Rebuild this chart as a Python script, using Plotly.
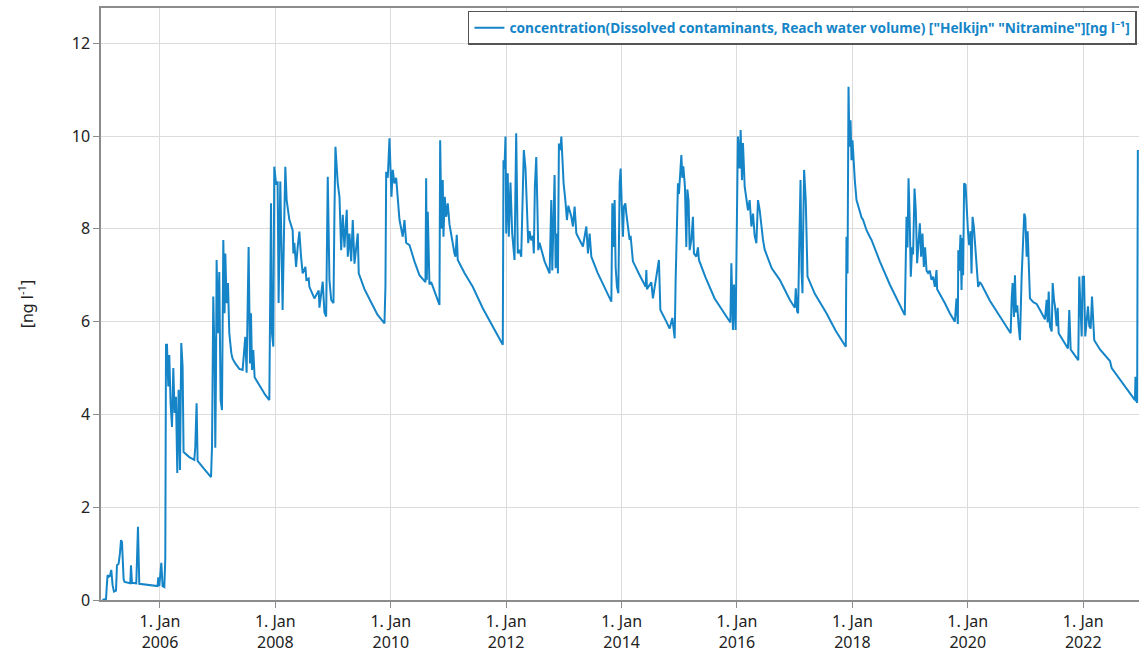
import pandas as pd
import plotly.graph_objects as go

# ---- data (decimal year, concentration in ng/l) ----
dec_years = [
    2005.000, 2005.064, 2005.077, 2005.091, 2005.109, 2005.133, 2005.155, 2005.178, 2005.202, 2005.237,
    2005.254, 2005.282, 2005.306, 2005.324, 2005.341, 2005.351, 2005.369, 2005.386, 2005.433, 2005.485,
    2005.497, 2005.514, 2005.589, 2005.618, 2005.641, 2005.814, 2005.958, 2005.971, 2005.988, 2006.023,
    2006.045, 2006.075, 2006.092, 2006.104,
    2006.121, 2006.144, 2006.161, 2006.184, 2006.208, 2006.231, 2006.253, 2006.277, 2006.300, 2006.323,
    2006.347, 2006.369, 2006.392, 2006.409, 2006.439, 2006.508, 2006.595, 2006.612, 2006.635, 2006.652,
    2006.768, 2006.885, 2006.902, 2006.924, 2006.947, 2006.959, 2006.971, 2006.982, 2007.006, 2007.028,
    2007.051, 2007.075, 2007.098, 2007.120, 2007.133, 2007.155, 2007.179, 2007.202, 2007.237, 2007.259,
    2007.306, 2007.375, 2007.433, 2007.479, 2007.502, 2007.537, 2007.561, 2007.578, 2007.596, 2007.618,
    2007.641, 2007.688, 2007.757, 2007.826, 2007.896, 2007.908, 2007.925,
    2007.942, 2007.965, 2007.982, 2008.012, 2008.040, 2008.057, 2008.086, 2008.126, 2008.156, 2008.173,
    2008.196, 2008.242, 2008.300, 2008.312, 2008.329, 2008.359, 2008.386, 2008.416, 2008.445, 2008.473,
    2008.520, 2008.537, 2008.577, 2008.589, 2008.676, 2008.751, 2008.763, 2008.820, 2008.849, 2008.879,
    2008.907, 2008.936, 2008.966, 2009.006, 2009.023, 2009.040, 2009.080, 2009.110, 2009.139, 2009.167,
    2009.196, 2009.236, 2009.254, 2009.283, 2009.313, 2009.340, 2009.370, 2009.427, 2009.444, 2009.543,
    2009.665, 2009.769, 2009.890, 2009.907, 2009.920, 2009.947, 2009.977, 2009.994, 2010.011, 2010.034,
    2010.063, 2010.093, 2010.121, 2010.150, 2010.207, 2010.237, 2010.266, 2010.324, 2010.410, 2010.497,
    2010.601, 2010.613, 2010.624, 2010.641, 2010.670, 2010.700, 2010.775, 2010.844, 2010.856,
    2010.879, 2010.901, 2010.913, 2010.936, 2010.960, 2010.988, 2011.005, 2011.017, 2011.104, 2011.121,
    2011.144, 2011.161, 2011.278, 2011.421, 2011.595, 2011.768, 2011.942, 2011.954, 2011.971, 2011.989,
    2012.001, 2012.028, 2012.046, 2012.075, 2012.105, 2012.145, 2012.174, 2012.202, 2012.231, 2012.261,
    2012.289, 2012.306, 2012.335, 2012.358, 2012.382, 2012.405, 2012.434, 2012.462, 2012.479, 2012.497,
    2012.521, 2012.538, 2012.556, 2012.578, 2012.665, 2012.752, 2012.781, 2012.798, 2012.838, 2012.856,
    2012.878, 2012.896, 2012.913, 2012.937, 2012.955, 2012.972, 2012.994, 2013.024, 2013.052, 2013.076,
    2013.098, 2013.128, 2013.156, 2013.185, 2013.215, 2013.272, 2013.329, 2013.388, 2013.416, 2013.445,
    2013.475, 2013.584, 2013.705, 2013.822,
    2013.839, 2013.862, 2013.879, 2013.896, 2013.919, 2013.943, 2013.966, 2013.983, 2014.000, 2014.023,
    2014.040, 2014.065, 2014.082, 2014.110, 2014.139, 2014.156, 2014.186, 2014.196, 2014.313, 2014.417,
    2014.429, 2014.439, 2014.515, 2014.543, 2014.647, 2014.672, 2014.776, 2014.833, 2014.880, 2014.902,
    2014.920, 2014.937, 2014.959, 2014.977, 2014.994, 2015.018, 2015.036, 2015.053, 2015.070, 2015.098,
    2015.122, 2015.140, 2015.162, 2015.180, 2015.209, 2015.237, 2015.254, 2015.296, 2015.324, 2015.341,
    2015.457, 2015.613, 2015.769, 2015.886, 2015.903, 2015.931, 2015.948, 2015.977, 2016.000, 2016.017,
    2016.047, 2016.064, 2016.087, 2016.104, 2016.134, 2016.163, 2016.191, 2016.220, 2016.250, 2016.278,
    2016.307, 2016.336, 2016.364, 2016.394, 2016.423, 2016.451, 2016.480, 2016.602, 2016.741, 2016.914,
    2017.001, 2017.018, 2017.041, 2017.058, 2017.075, 2017.100, 2017.117, 2017.134, 2017.145, 2017.162,
    2017.191, 2017.204, 2017.221, 2017.348, 2017.550, 2017.712, 2017.885, 2017.897, 2017.915, 2017.932,
    2017.949, 2017.967, 2017.984, 2018.001, 2018.019, 2018.041, 2018.071, 2018.128, 2018.157, 2018.185,
    2018.215, 2018.244, 2018.301, 2018.331, 2018.475, 2018.648, 2018.908, 2018.926, 2018.938, 2018.955,
    2018.973, 2018.995, 2019.012, 2019.035, 2019.052, 2019.077, 2019.099, 2019.122, 2019.146, 2019.169,
    2019.191, 2019.215, 2019.238, 2019.260, 2019.285, 2019.312, 2019.342, 2019.371, 2019.399, 2019.429,
    2019.458, 2019.469, 2019.602, 2019.689, 2019.776, 2019.805, 2019.828,
    2019.836, 2019.850, 2019.874, 2019.892, 2019.909, 2019.920, 2019.937, 2019.961, 2019.979, 2020.006,
    2020.024, 2020.048, 2020.065, 2020.083, 2020.105, 2020.122, 2020.152, 2020.180, 2020.209, 2020.239,
    2020.383, 2020.556, 2020.742, 2020.759, 2020.776, 2020.799, 2020.816, 2020.834, 2020.856, 2020.880,
    2020.903, 2020.932, 2020.960, 2020.977, 2020.995, 2021.019, 2021.036, 2021.054, 2021.076, 2021.134,
    2021.192, 2021.250, 2021.307, 2021.336, 2021.366, 2021.383, 2021.401, 2021.423, 2021.453, 2021.470,
    2021.493, 2021.510, 2021.539, 2021.557, 2021.574, 2021.649, 2021.735, 2021.758, 2021.782, 2021.839,
    2021.914, 2021.931, 2021.956, 2021.973, 2021.990, 2022.013, 2022.035, 2022.060, 2022.082, 2022.105,
    2022.129, 2022.152, 2022.174, 2022.191, 2022.290, 2022.464, 2022.493, 2022.637, 2022.811, 2022.897,
    2022.906, 2022.915, 2022.935, 2022.947,
]

conc_values = [
    0.00, 0.02, 0.30, 0.54, 0.50, 0.52, 0.65, 0.32, 0.18, 0.20,
    0.75, 0.78, 1.01, 1.29, 1.25, 0.95, 0.45, 0.39, 0.37, 0.36,
    0.75, 0.37, 0.36, 1.58, 0.35, 0.32, 0.30, 0.49, 0.30, 0.80,
    0.30, 0.28, 0.90, 5.50,
    5.50, 4.60, 5.28, 4.24, 3.73, 5.00, 4.03, 4.38, 2.74, 4.53,
    2.80, 5.54, 5.03, 3.19, 3.15, 3.08, 3.02, 3.30, 4.24, 3.00,
    2.82, 2.65, 3.30, 6.54, 5.17, 3.28, 4.80, 7.33, 5.75, 7.07,
    4.31, 4.09, 7.76, 6.18, 7.47, 6.40, 6.83, 5.75, 5.32, 5.20,
    5.10, 4.98, 4.96, 5.67, 4.90, 7.61, 5.10, 6.18, 4.96, 5.39,
    4.80, 4.70, 4.55, 4.42, 4.31, 6.18, 8.55,
    5.75, 5.46, 9.34, 8.98, 9.00, 6.40, 9.02, 6.25, 8.30, 9.34,
    8.62, 8.20, 7.97, 7.47, 7.70, 7.18, 7.60, 7.94, 7.40, 7.04,
    7.18, 6.90, 6.93, 6.75, 6.50, 6.67, 6.30, 6.86, 6.20, 6.11,
    9.12, 6.90, 6.47, 6.40, 8.40, 9.77, 8.98, 8.69, 7.54, 8.30,
    7.60, 8.41, 7.40, 7.90, 7.30, 8.19, 7.25, 7.90, 7.04, 6.70,
    6.40, 6.15, 5.96, 6.75, 9.23, 9.10, 9.95, 9.30, 8.69, 9.27,
    8.98, 9.10, 8.62, 8.20, 7.83, 8.19, 7.70, 7.65, 7.30, 7.00,
    6.85, 9.09, 6.90, 8.37, 6.80, 6.85, 6.60, 6.36, 9.91,
    8.00, 9.05, 7.83, 8.69, 8.26, 8.55, 8.20, 8.10, 7.47, 7.40,
    7.87, 7.33, 7.05, 6.75, 6.29, 5.89, 5.50, 9.48, 9.30, 9.99,
    7.90, 9.20, 7.83, 9.00, 7.90, 7.33, 10.06, 7.47, 7.55, 7.40,
    8.60, 9.70, 9.30, 8.26, 7.69, 7.95, 7.75, 7.85, 7.47, 8.91,
    9.55, 8.62, 7.54, 7.70, 7.30, 7.04, 8.62, 7.10, 9.16, 7.15,
    7.90, 7.04, 9.84, 9.70, 9.99, 9.55, 8.98, 8.62, 8.19, 8.50,
    8.40, 8.26, 8.05, 8.48, 7.90, 7.76, 7.62, 8.05, 7.47, 7.90,
    7.40, 7.05, 6.75, 6.43,
    8.55, 7.61, 8.62, 7.18, 6.75, 6.61, 8.98, 9.30, 8.60, 7.83,
    8.48, 8.55, 8.33, 7.98, 7.76, 7.85, 7.40, 7.30, 7.00, 6.75,
    7.11, 6.70, 6.85, 6.50, 7.33, 6.25, 6.00, 5.85, 6.08, 5.75,
    5.64, 6.90, 8.33, 8.98, 8.75, 9.41, 9.59, 9.10, 9.35, 8.91,
    7.61, 8.85, 8.60, 7.54, 7.76, 8.26, 7.47, 7.40, 7.60, 7.33,
    6.95, 6.50, 6.20, 5.98, 7.26, 5.82, 6.80, 5.82, 8.26, 9.99,
    9.30, 10.13, 9.05, 9.85, 8.91, 8.69, 8.40, 8.62, 8.05, 8.33,
    7.85, 7.69, 8.62, 8.40, 8.05, 7.76, 7.55, 7.15, 6.90, 6.47,
    6.30, 6.72, 6.22, 6.18, 7.47, 9.05, 7.11, 6.61, 7.90, 9.27,
    8.60, 7.70, 6.97, 6.60, 6.18, 5.80, 5.46, 7.83, 7.04, 11.06,
    9.77, 10.34, 9.48, 9.91, 9.34, 9.05, 8.62, 8.33, 8.25, 8.19,
    8.05, 7.97, 7.83, 7.76, 7.30, 6.80, 6.14, 7.18, 8.26, 7.60,
    9.09, 8.10, 6.97, 7.60, 7.45, 8.87, 8.40, 7.26, 7.75, 8.12,
    7.40, 7.90, 7.18, 7.60, 7.10, 7.05, 7.10, 6.90, 6.97, 6.75,
    7.11, 6.70, 6.40, 6.18, 6.00, 6.50, 5.95,
    7.54, 7.10, 7.87, 6.68, 7.80, 7.00, 8.98, 8.95, 8.40, 7.90,
    7.65, 7.95, 7.04, 8.26, 8.05, 7.75, 7.25, 6.75, 6.85, 6.80,
    6.45, 6.10, 5.75, 6.47, 6.83, 6.10, 7.00, 6.20, 6.35, 5.90,
    5.60, 6.97, 7.76, 8.33, 8.25, 7.40, 7.95, 7.30, 6.50, 6.42,
    6.38, 6.25, 6.10, 6.05, 6.47, 5.98, 6.65, 5.90, 5.79, 6.83,
    6.47, 6.33, 5.90, 6.30, 5.75, 5.60, 5.42, 6.25, 5.40, 5.30,
    5.17, 6.97, 6.30, 5.68, 6.97, 6.97, 5.68, 6.10, 6.33, 5.90,
    5.85, 6.54, 5.95, 5.60, 5.40, 5.15, 5.00, 4.75, 4.45, 4.31,
    4.81, 4.30, 4.25, 9.70,
]

tick_years = [2006, 2008, 2010, 2012, 2014, 2016, 2018, 2020, 2022]
tick_labels = [f"1. Jan<br>{y}" for y in tick_years]
y_ticks = [0, 2, 4, 6, 8, 10, 12]

series_name = 'concentration(Dissolved contaminants, Reach water volume) ["Helkijn" "Nitramine"][ng l⁻¹]'


def dec_to_date(d):
    y = int(d)
    start = pd.Timestamp(y, 1, 1)
    end = pd.Timestamp(y + 1, 1, 1)
    return start + (end - start) * (d - y)


dates = [dec_to_date(d) for d in dec_years]
tick_dates = [pd.Timestamp(y, 1, 1) for y in tick_years]

LINE = "#1585c8"
FONT = "Noto Sans"

fig = go.Figure()
fig.add_trace(go.Scatter(
    x=dates, y=conc_values, mode="lines", name=series_name,
    line=dict(color=LINE, width=2), showlegend=True,
))

fig.update_layout(
    width=1139, height=659,
    margin=dict(l=101, r=0, t=8, b=59),
    paper_bgcolor="white", plot_bgcolor="white",
    font=dict(family=FONT, size=16, color="#222"),
    showlegend=True,
    legend=dict(
        x=0.998, y=0.995, xanchor="right", yanchor="top",
        bgcolor="white", bordercolor="#555", borderwidth=1.5,
        font=dict(family=FONT, size=13.7, color=LINE, weight="bold"),
        itemwidth=30, tracegroupgap=0,
    ),
    xaxis=dict(
        range=[dec_to_date(2004.977), dec_to_date(2022.967)],
        tickvals=tick_dates, ticktext=tick_labels,
        showgrid=True, gridcolor="#dcdcdc", gridwidth=1,
        showline=True, linecolor="#8c8c8c", linewidth=1.5, mirror=True,
        ticks="outside", ticklen=6, tickcolor="#8c8c8c",
        tickfont=dict(family=FONT, size=16, color="#222"),
        zeroline=False,
    ),
    yaxis=dict(
        range=[0, 12.76],
        tickvals=y_ticks,
        showgrid=True, gridcolor="#dcdcdc", gridwidth=1,
        showline=True, linecolor="#8c8c8c", linewidth=1.5,
        ticks="outside", ticklen=6, tickcolor="#8c8c8c",
        tickfont=dict(family=FONT, size=16, color="#222"),
        zeroline=False,
        title=dict(text="[ng l<sup>-1</sup>]", standoff=34,
                   font=dict(family=FONT, size=16, color="#222")),
    ),
)

# remove the default 8px page margin so the 1139x659 figure fills the window exactly
fig.write_html(
    "out.html",
    config={"displayModeBar": False},
    post_script="document.body.style.margin='0';document.body.style.overflow='hidden';",
)
